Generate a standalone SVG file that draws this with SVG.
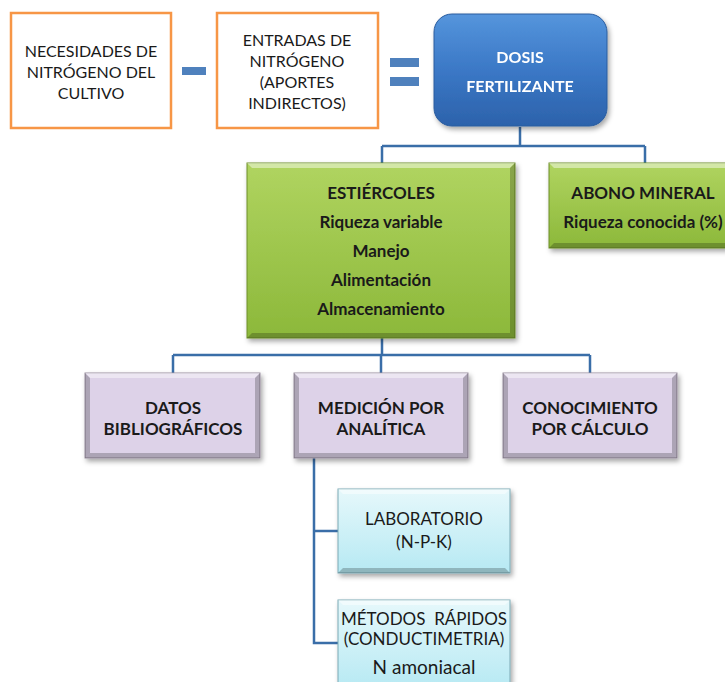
<svg xmlns="http://www.w3.org/2000/svg" width="725" height="682" viewBox="0 0 725 682">
<defs>
<linearGradient id="gBlue" x1="0" y1="0" x2="0" y2="1">
<stop offset="0" stop-color="#5595dc"/>
<stop offset="0.5" stop-color="#3b78c6"/>
<stop offset="1" stop-color="#2c62ab"/>
</linearGradient>
<linearGradient id="gGreen" x1="0" y1="0" x2="0" y2="1">
<stop offset="0" stop-color="#b0d460"/>
<stop offset="1" stop-color="#8cb83a"/>
</linearGradient>
<linearGradient id="gCyan" x1="0" y1="0" x2="0" y2="1">
<stop offset="0" stop-color="#e6f8fb"/>
<stop offset="1" stop-color="#b6e9f3"/>
</linearGradient>
<filter id="sh" x="-10%" y="-10%" width="125%" height="130%">
<feDropShadow dx="2" dy="3" stdDeviation="2.5" flood-color="#000" flood-opacity="0.35"/>
</filter>
</defs>
<style>
.orange{fill:#fff;stroke:#f79646;stroke-width:2.5}
.t{font-family:Lato,"Open Sans","Liberation Sans",sans-serif;font-size:16px;fill:#1a1a1a;text-anchor:middle;dominant-baseline:central}
.b{font-weight:bold;font-size:17px}
.c{font-size:17px}
.d{font-size:16px}
.n{font-size:19px}
.w{fill:#fff}
.conn{fill:none;stroke:#3a6ea8;stroke-width:2.5}
.op{fill:#4f81bd}
.green{fill:url(#gGreen);stroke:#6f8f2a;stroke-width:1}
.purple{fill:#ddd2e8;stroke:#9a90a0;stroke-width:1}
.cyan{fill:url(#gCyan);stroke:#7aa9b5;stroke-width:1}
.bevL{fill:#ffffff;opacity:0.45}
.bevD{fill:#000;opacity:0.22}
</style>

<g id="connectors">
<path class="conn" d="M520 127 V146 M382 146 H645 M382 146 V163 M645 146 V163"/>
<path class="conn" d="M382 338 V355 M173 355 H590 M173 355 V373 M381 355 V373 M590 355 V373"/>
<path class="conn" d="M314 458 V643 H338 M314 531 H338"/>
</g>

<g id="n-necesidades">
<rect class="orange" x="11" y="13" width="160" height="115"/>
<text class="t" x="91" y="50">NECESIDADES DE</text>
<text class="t" x="91" y="71">NITRÓGENO DEL</text>
<text class="t" x="91" y="92">CULTIVO</text>
</g>

<g id="op-minus"><rect class="op" x="182" y="67" width="24" height="8"/></g>

<g id="n-entradas">
<rect class="orange" x="217" y="13" width="161" height="115"/>
<text class="t" x="297" y="39">ENTRADAS DE</text>
<text class="t" x="297" y="60">NITRÓGENO</text>
<text class="t" x="297" y="81">(APORTES</text>
<text class="t" x="297" y="102">INDIRECTOS)</text>
</g>

<g id="op-equal">
<rect class="op" x="390" y="58" width="29" height="9"/>
<rect class="op" x="390" y="77" width="29" height="9"/>
</g>

<g id="n-dosis" filter="url(#sh)">
<rect x="434" y="14" width="173" height="112" rx="18" fill="url(#gBlue)" stroke="#2a5c9e" stroke-width="1"/>
<text class="t b d w" x="520" y="56">DOSIS</text>
<text class="t b d w" x="520" y="85">FERTILIZANTE</text>
</g>

<g id="n-estiercoles">
<g filter="url(#sh)"><rect class="green" x="247" y="163" width="268" height="175"/></g>
<polygon class="bevL" points="247,163 515,163 510,168 252,168"/>
<polygon class="bevD" points="247,338 515,338 510,333 252,333"/>
<polygon class="bevD" points="515,163 515,338 510,333 510,168" opacity="0.12"/>
<text class="t b" x="381" y="192">ESTIÉRCOLES</text>
<text class="t b" x="381" y="221">Riqueza variable</text>
<text class="t b" x="381" y="250">Manejo</text>
<text class="t b" x="381" y="279">Alimentación</text>
<text class="t b" x="381" y="308">Almacenamiento</text>
</g>

<g id="n-abono">
<g filter="url(#sh)"><rect class="green" x="549" y="163" width="190" height="85"/></g>
<polygon class="bevL" points="549,163 739,163 734,168 554,168"/>
<polygon class="bevD" points="549,248 739,248 734,243 554,243"/>
<text class="t b" x="643" y="192">ABONO MINERAL</text>
<text class="t b" x="643" y="221">Riqueza conocida (%)</text>
</g>

<g id="n-datos">
<g filter="url(#sh)"><rect class="purple" x="85" y="373" width="175" height="85"/></g>
<polygon class="bevL" points="85,373 260,373 255,378 90,378"/>
<polygon class="bevD" points="85,458 260,458 255,453 90,453"/>
<polygon class="bevD" points="85,373 90,378 90,453 85,458" opacity="0.12"/>
<polygon class="bevD" points="260,373 255,378 255,453 260,458" opacity="0.15"/>
<text class="t b" x="173" y="407">DATOS</text>
<text class="t b" x="173" y="428">BIBLIOGRÁFICOS</text>
</g>

<g id="n-medicion">
<g filter="url(#sh)"><rect class="purple" x="294" y="373" width="174" height="85"/></g>
<polygon class="bevL" points="294,373 468,373 463,378 299,378"/>
<polygon class="bevD" points="294,458 468,458 463,453 299,453"/>
<polygon class="bevD" points="294,373 299,378 299,453 294,458" opacity="0.12"/>
<polygon class="bevD" points="468,373 463,378 463,453 468,458" opacity="0.15"/>
<text class="t b" x="381" y="407">MEDICIÓN POR</text>
<text class="t b" x="381" y="428">ANALÍTICA</text>
</g>

<g id="n-conocimiento">
<g filter="url(#sh)"><rect class="purple" x="503" y="373" width="174" height="85"/></g>
<polygon class="bevL" points="503,373 677,373 672,378 508,378"/>
<polygon class="bevD" points="503,458 677,458 672,453 508,453"/>
<polygon class="bevD" points="503,373 508,378 508,453 503,458" opacity="0.12"/>
<polygon class="bevD" points="677,373 672,378 672,453 677,458" opacity="0.15"/>
<text class="t b" x="590" y="407">CONOCIMIENTO</text>
<text class="t b" x="590" y="428">POR CÁLCULO</text>
</g>

<g id="n-laboratorio">
<g filter="url(#sh)"><rect class="cyan" x="338" y="489" width="172" height="84"/></g>
<polygon class="bevL" points="338,489 510,489 505,494 343,494"/>
<polygon class="bevD" points="338,573 510,573 505,568 343,568" opacity="0.12"/>
<text class="t c" x="424" y="518">LABORATORIO</text>
<text class="t c" x="424" y="541">(N-P-K)</text>
</g>

<g id="n-metodos">
<g filter="url(#sh)"><rect class="cyan" x="338" y="600" width="172" height="90"/></g>
<polygon class="bevL" points="338,600 510,600 505,605 343,605"/>
<text class="t c" x="424" y="618" xml:space="preserve">MÉTODOS  RÁPIDOS</text>
<text class="t c" x="424" y="638">(CONDUCTIMETRIA)</text>
<text class="t n" x="424" y="666">N amoniacal</text>
</g>
</svg>
